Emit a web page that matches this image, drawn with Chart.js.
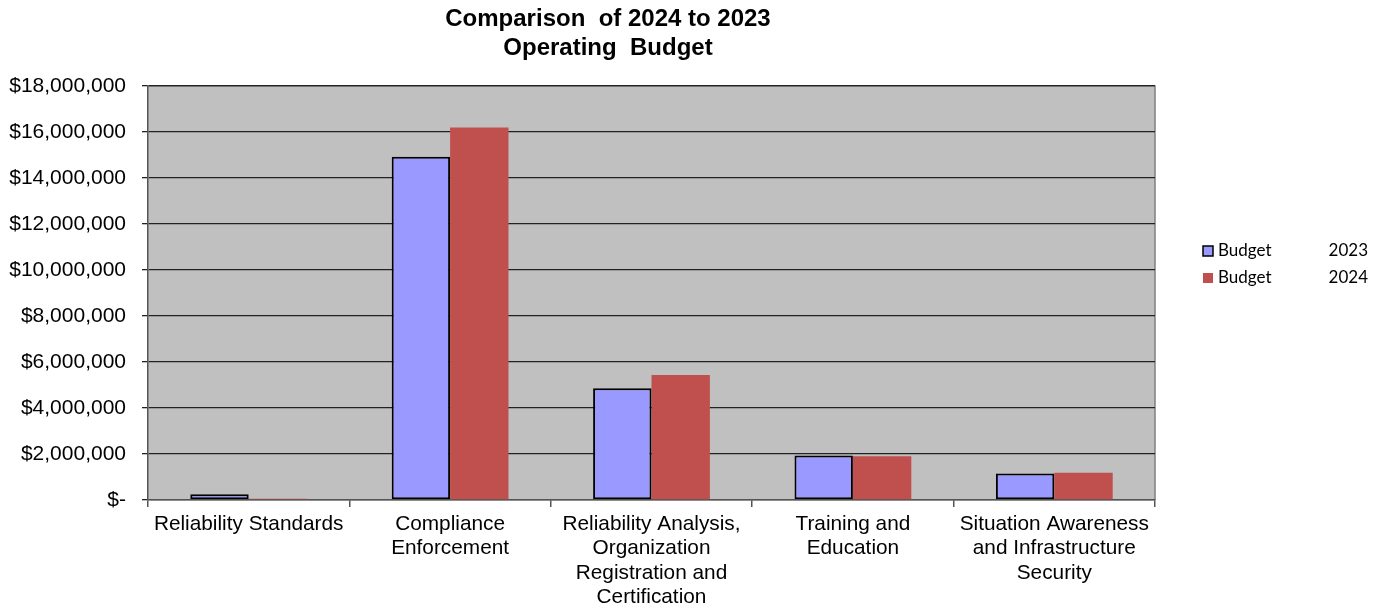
<!DOCTYPE html>
<html>
<head>
<meta charset="utf-8">
<script src="https://cdn.jsdelivr.net/npm/chart.js@4"></script>
<style>
  html, body { margin: 0; padding: 0; background: #fff; }
  #wrap { position: relative; width: 1377px; height: 610px; }
</style>
</head>
<body>
<div id="wrap"><canvas id="budgetChart" width="1377" height="610"></canvas></div>
<script>
// Comparison of 2024 to 2023 operating budget, per program area
const CATEGORIES = [
  'Reliability Standards',
  ['Compliance', 'Enforcement'],
  ['Reliability Analysis,', 'Organization', 'Registration and', 'Certification'],
  ['Training and', 'Education'],
  ['Situation Awareness', 'and Infrastructure', 'Security']
];
const BUDGET_2023 = [250000, 14920000, 4860000, 1940000, 1150000];
const BUDGET_2024 = [50000, 16200000, 5440000, 1900000, 1180000];
const Y_TICKS = [0, 2000000, 4000000, 6000000, 8000000, 10000000, 12000000, 14000000, 16000000, 18000000];
const TITLE_LINES = ['Comparison  of 2024 to 2023', 'Operating  Budget'];
const LEGEND_ITEMS = [
  { name: 'Budget', year: '2023', fill: '#9999ff', border: '#000' },
  { name: 'Budget', year: '2024', fill: '#c0504d', border: null }
];

function fmtMoney(v) {
  if (v === 0) return '$-';
  return '$' + Number(v).toLocaleString('en-US');
}

// gray plot background + thin frame on top/right
const plotBackground = {
  id: 'plotBackground',
  beforeDraw(chart) {
    const { ctx, chartArea: a } = chart;
    ctx.save();
    ctx.fillStyle = '#c0c0c0';
    ctx.fillRect(a.left, a.top, a.right - a.left, a.bottom - a.top);
    ctx.strokeStyle = '#808080';
    ctx.lineWidth = 1.5;
    ctx.beginPath();
    ctx.moveTo(a.left, a.top);
    ctx.lineTo(a.right, a.top);
    ctx.lineTo(a.right, a.bottom);
    ctx.stroke();
    ctx.restore();
  }
};

// title and legend, placed like the original spreadsheet chart
const titleAndLegend = {
  id: 'titleAndLegend',
  afterDraw(chart) {
    const ctx = chart.ctx;
    ctx.save();
    ctx.fillStyle = '#000';
    ctx.textAlign = 'center';
    ctx.textBaseline = 'middle';
    ctx.font = 'bold 24px "Liberation Sans", Arial, sans-serif';
    TITLE_LINES.forEach((t, i) => ctx.fillText(t, 608, 19 + i * 29));

    ctx.font = '17px Lato, "Open Sans", sans-serif';
    LEGEND_ITEMS.forEach((it, i) => {
      const y = 251 + i * 27;
      ctx.fillStyle = it.fill;
      ctx.fillRect(1203, y - 5, 10, 10);
      if (it.border) {
        ctx.strokeStyle = it.border;
        ctx.lineWidth = 1.5;
        ctx.strokeRect(1203, y - 5, 10, 10);
      }
      ctx.fillStyle = '#000';
      ctx.textAlign = 'left';
      ctx.fillText(it.name, 1218, y);
      ctx.textAlign = 'right';
      ctx.fillText(it.year, 1368, y);
    });
    ctx.restore();
  }
};

new Chart(document.getElementById('budgetChart'), {
  type: 'bar',
  data: {
    labels: CATEGORIES,
    datasets: [
      { label: 'Budget 2023', data: BUDGET_2023, backgroundColor: '#9999ff',
        borderColor: '#000', borderWidth: 2, borderSkipped: false },
      { label: 'Budget 2024', data: BUDGET_2024, backgroundColor: '#c0504d',
        borderWidth: 0 }
    ]
  },
  options: {
    responsive: false,
    animation: false,
    layout: { padding: { top: 86, right: 222, left: 0, bottom: 0 } },
    plugins: { legend: { display: false }, title: { display: false }, tooltip: { enabled: false } },
    datasets: { bar: { categoryPercentage: 0.58, barPercentage: 1.0 } },
    scales: {
      x: {
        grid: { offset: true, drawOnChartArea: false, tickLength: 7, color: '#555', lineWidth: 1.5 },
        border: { color: '#555', width: 1.5 },
        ticks: { color: '#000', font: { family: '"Liberation Sans", Arial, sans-serif', size: 20.8, lineHeight: 1.17 },
                 maxRotation: 0, autoSkip: false, padding: 5 },
        afterFit(scale) { scale.height = 110; }
      },
      y: {
        min: 0, max: 18000000,
        afterBuildTicks(scale) { scale.ticks = Y_TICKS.map(v => ({ value: v })); },
        grid: { color: '#222', lineWidth: 1.3, tickLength: 6 },
        border: { color: '#555', width: 1.5 },
        ticks: { color: '#000', font: { family: '"Liberation Sans", Arial, sans-serif', size: 21 },
                 padding: 16, callback: v => fmtMoney(v) },
        afterFit(scale) { scale.width = 148; }
      }
    }
  },
  plugins: [plotBackground, titleAndLegend]
});
</script>
</body>
</html>
